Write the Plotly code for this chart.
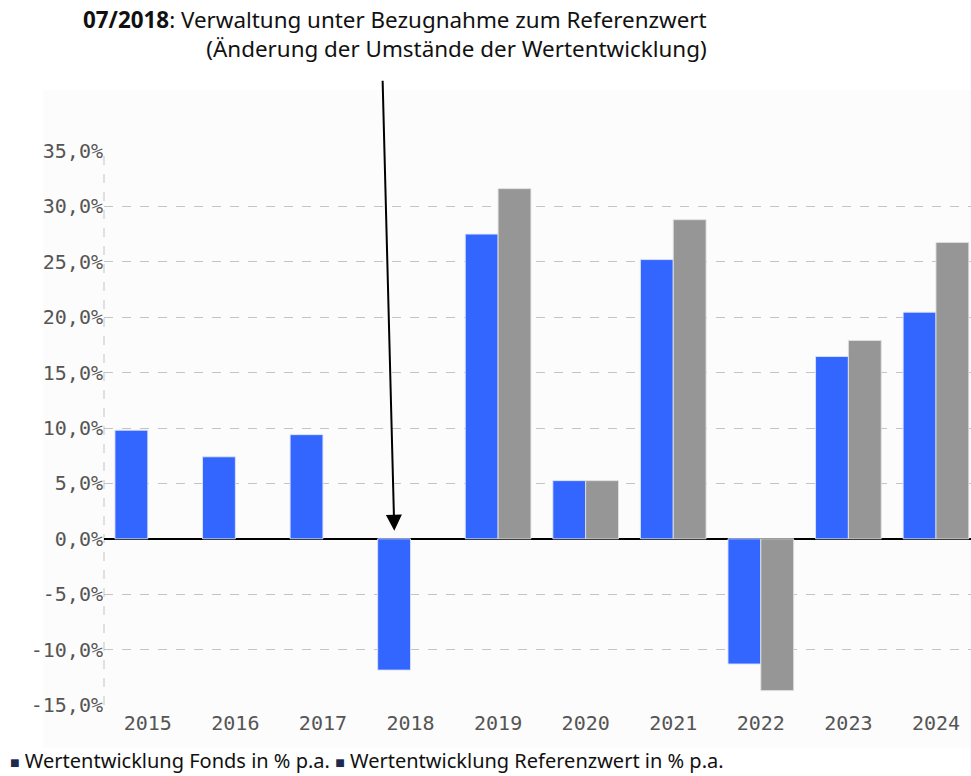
import plotly.graph_objects as go

years = ["2015", "2016", "2017", "2018", "2019", "2020", "2021", "2022", "2023", "2024"]
fonds = [9.8, 7.4, 9.4, -11.85, 27.5, 5.25, 25.2, -11.3, 16.45, 20.45]
referenz = [None, None, None, None, 31.6, 5.25, 28.8, -13.7, 17.9, 26.75]
y_tickvals = [-15, -10, -5, 0, 5, 10, 15, 20, 25, 30, 35]
y_ticktext = ["-15,0%", "-10,0%", "-5,0%", "0,0%", "5,0%", "10,0%", "15,0%",
              "20,0%", "25,0%", "30,0%", "35,0%"]
legend_fonds = "Wertentwicklung Fonds in % p.a."
legend_ref = "Wertentwicklung Referenzwert in % p.a."
note_year = "2018"
note_bold = "07/2018"
note_line1 = ": Verwaltung unter Bezugnahme zum Referenzwert"
note_line2 = "(Änderung der Umstände der Wertentwicklung)"

W, H = 971, 776
L, R, T, B = 104, 0, 151, 71
PW, PH = W - L - R, H - T - B


def px(x):
    return (x - L) / PW


def py(y):
    return (H - B - y) / PH


fig = go.Figure()
fig.add_trace(go.Bar(x=years, y=fonds, name=legend_fonds,
                     marker=dict(color="#3366ff", line=dict(color="rgba(220,228,255,0.9)", width=1))))
fig.add_trace(go.Bar(x=years, y=referenz, name=legend_ref,
                     marker=dict(color="#969696", line=dict(color="rgba(225,225,225,0.9)", width=1))))

tick_font = dict(family="DejaVu Sans Mono", size=20, color="#555555")

fig.update_layout(
    width=W, height=H, autosize=False,
    margin=dict(l=L, r=R, t=T, b=B, pad=0),
    paper_bgcolor="white",
    plot_bgcolor="rgba(0,0,0,0)",
    barmode="group", bargap=0.25, bargroupgap=0,
    showlegend=False,
    xaxis=dict(type="category", range=[-0.5, 9.4], showgrid=False, zeroline=False,
               showline=False, ticks="", ticklabelstandoff=4,
               tickfont=tick_font, fixedrange=True),
    yaxis=dict(range=[-15, 35], tickvals=y_tickvals, ticktext=y_ticktext,
               showgrid=True, gridcolor="#c4c4c4", griddash="dash", gridwidth=1,
               zeroline=True, zerolinecolor="#000000", zerolinewidth=2,
               showline=False, ticks="",
               tickfont=tick_font, fixedrange=True),
    shapes=[
        dict(type="rect", xref="paper", yref="paper", x0=px(43), x1=1.0,
             y0=py(748), y1=py(90), fillcolor="#fcfcfc", line=dict(width=0), layer="below"),
        dict(type="line", xref="x domain", yref="y domain", x0=0, x1=0, y0=0, y1=1,
             line=dict(color="#c4c4c4", width=1, dash="dash"), layer="below"),
    ],
    annotations=[
        dict(xref="paper", yref="paper", x=px(709), y=py(2), xanchor="right", yanchor="top",
             align="right", showarrow=False,
             text=f"<b>{note_bold}</b>{note_line1}<br>{note_line2}",
             font=dict(family="Noto Sans", size=22.4, color="#111111")),
        dict(xref="x", yref="y", x=years.index(note_year), y=0, xshift=-16, standoff=8,
             showarrow=True, axref="pixel", ayref="pixel", ax=-12, ay=-462,
             text="&nbsp;", font=dict(size=4, color="rgba(0,0,0,0)"),
             arrowhead=2, arrowsize=1.6, arrowwidth=2, arrowcolor="#000000"),
        dict(xref="paper", yref="paper", x=px(8), y=py(760), xanchor="left", yanchor="middle",
             align="left", showarrow=False,
             text=(f"<span style='color:#1b2a4e;font-size:16px'>■</span> {legend_fonds} "
                   f"<span style='color:#1b2a4e;font-size:16px'>■</span> {legend_ref}"),
             font=dict(family="Noto Sans", size=20, color="#111111")),
    ],
)

fig.write_html("out.html", config={"displayModeBar": False})
